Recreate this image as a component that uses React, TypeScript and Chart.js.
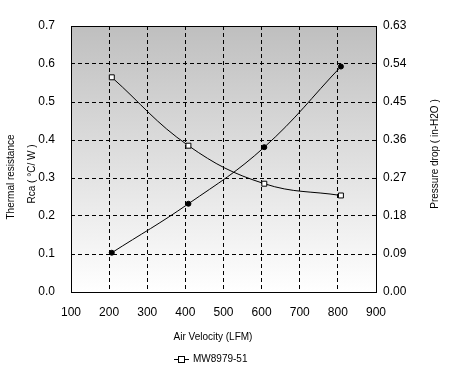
import React, { useEffect, useRef } from "react";
import { Chart, registerables } from "chart.js";
Chart.register(...registerables);

const airVelocity = [207, 408, 607, 808];
const thermalResistance = [0.565, 0.385, 0.285, 0.254];
const pressureDrop = [0.093, 0.209, 0.343, 0.534];
const xTickValues = [100, 200, 300, 400, 500, 600, 700, 800, 900];
const leftTickValues = [0, 0.1, 0.2, 0.3, 0.4, 0.5, 0.6, 0.7];
const rightTickValues = [0, 0.09, 0.18, 0.27, 0.36, 0.45, 0.54, 0.63];
const xTitle = "Air Velocity (LFM)";
const leftTitle = ["Thermal resistance", "Rca ( °C/ W )"];
const rightTitle = "Pressure drop ( in-H2O )";
const legendLabel = "MW8979-51";

const FONT = "'Liberation Sans', Arial, sans-serif";

const decor = {
  id: "decor",
  beforeDraw(chart: any) {
    const { ctx, chartArea: a } = chart;
    const g = ctx.createLinearGradient(0, a.top, 0, a.bottom);
    g.addColorStop(0, "#bfbfbf");
    g.addColorStop(1, "#ffffff");
    ctx.save();
    ctx.fillStyle = g;
    ctx.fillRect(a.left, a.top, a.right - a.left, a.bottom - a.top);
    ctx.restore();
  },
  beforeDatasetsDraw(chart: any) {
    const { ctx, chartArea: a } = chart;
    ctx.save();
    ctx.strokeStyle = "#000";
    ctx.lineWidth = 1;
    ctx.strokeRect(a.left + 0.5, a.top + 0.5, a.right - a.left, a.bottom - a.top);
    ctx.restore();
  },
  afterDraw(chart: any) {
    const { ctx } = chart;
    ctx.save();
    ctx.fillStyle = "#000";
    ctx.font = `10px ${FONT}`;
    ctx.textAlign = "center";
    ctx.textBaseline = "middle";
    // x title
    ctx.fillText(xTitle, 213, 337);
    // left title
    ctx.save();
    ctx.translate(11, 177);
    ctx.rotate(-Math.PI / 2);
    ctx.fillText(leftTitle[0], 0, 0);
    ctx.restore();
    ctx.save();
    ctx.translate(32, 174);
    ctx.rotate(-Math.PI / 2);
    ctx.fillText(leftTitle[1], 0, 0);
    ctx.restore();
    // right title
    ctx.save();
    ctx.translate(435, 154);
    ctx.rotate(-Math.PI / 2);
    ctx.fillText(rightTitle, 0, 0);
    ctx.restore();
    // legend
    ctx.strokeStyle = "#000";
    ctx.lineWidth = 1;
    ctx.beginPath();
    ctx.moveTo(174, 359.5);
    ctx.lineTo(189, 359.5);
    ctx.stroke();
    ctx.fillStyle = "#fff";
    ctx.fillRect(178.5, 356.5, 6, 6);
    ctx.strokeRect(178.5, 356.5, 6, 6);
    ctx.fillStyle = "#000";
    ctx.textAlign = "left";
    ctx.fillText(legendLabel, 193, 359.5);
    ctx.restore();
  },
};

const edgeTransparent = (n: number) => (c: any) =>
  c.index === 0 || c.index === n - 1 ? "rgba(0,0,0,0)" : "#000";

export default function App() {
  const ref = useRef<HTMLCanvasElement>(null);
  useEffect(() => {
    if (!ref.current) return;
    const chart = new Chart(ref.current, {
      type: "line",
      data: {
        datasets: [
          {
            label: "Thermal resistance",
            data: airVelocity.map((x, i) => ({ x, y: thermalResistance[i] })),
            yAxisID: "y",
            borderColor: "#000",
            borderWidth: 1,
            tension: 0.4,
            pointStyle: "rect",
            pointRadius: 3.5,
            pointBackgroundColor: "#fff",
            pointBorderColor: "#000",
            pointBorderWidth: 1,
          },
          {
            label: "Pressure drop",
            data: airVelocity.map((x, i) => ({ x, y: pressureDrop[i] })),
            yAxisID: "y2",
            borderColor: "#000",
            borderWidth: 1,
            tension: 0.4,
            pointStyle: "circle",
            pointRadius: 2.5,
            pointBackgroundColor: "#000",
            pointBorderColor: "#000",
            pointBorderWidth: 1,
          },
        ],
      },
      options: {
        animation: false,
        responsive: false,
        devicePixelRatio: 1,
        layout: { padding: { top: 26, left: 0, right: 0, bottom: 0 } },
        plugins: { legend: { display: false }, tooltip: { enabled: false } },
        scales: {
          x: {
            type: "linear",
            min: 100,
            max: 900,
            afterBuildTicks: (s: any) => {
              s.ticks = xTickValues.map((v) => ({ value: v }));
            },
            afterFit: (s: any) => {
              s.height = 79;
            },
            border: { display: false },
            grid: {
              color: edgeTransparent(xTickValues.length),
              lineWidth: 1,
              drawTicks: false,
              tickBorderDash: [4, 3],
            },
            ticks: {
              color: "#000",
              font: { family: FONT, size: 12 },
              padding: 13,
              maxRotation: 0,
              autoSkip: false,
              callback: (v: any) => String(v),
            },
          },
          y: {
            position: "left",
            min: 0,
            max: 0.7,
            afterBuildTicks: (s: any) => {
              s.ticks = leftTickValues.map((v) => ({ value: v }));
            },
            afterFit: (s: any) => {
              s.width = 71;
            },
            border: { display: false },
            grid: {
              color: edgeTransparent(leftTickValues.length),
              lineWidth: 1,
              drawTicks: false,
            },
            ticks: {
              color: "#000",
              font: { family: FONT, size: 12 },
              padding: 16,
              autoSkip: false,
              callback: (v: any) => Number(v).toFixed(1),
            },
          },
          y2: {
            position: "right",
            min: 0,
            max: 0.63,
            afterBuildTicks: (s: any) => {
              s.ticks = rightTickValues.map((v) => ({ value: v }));
            },
            afterFit: (s: any) => {
              s.width = 78;
            },
            border: { display: false },
            grid: { drawOnChartArea: false, drawTicks: false },
            ticks: {
              color: "#000",
              font: { family: FONT, size: 12 },
              padding: 7,
              autoSkip: false,
              callback: (v: any) => Number(v).toFixed(2),
            },
          },
        },
      },
      plugins: [decor],
    } as any);
    // dashed grid lines
    const o: any = chart.options.scales;
    o.x.border.dash = [4, 3];
    o.y.border.dash = [4, 3];
    chart.update();
    return () => chart.destroy();
  }, []);
  return (
    <div style={{ position: "absolute", left: 0, top: 0, width: 454, height: 371, background: "#fff" }}>
      <canvas ref={ref} width={454} height={371} style={{ width: 454, height: 371 }} />
    </div>
  );
}
